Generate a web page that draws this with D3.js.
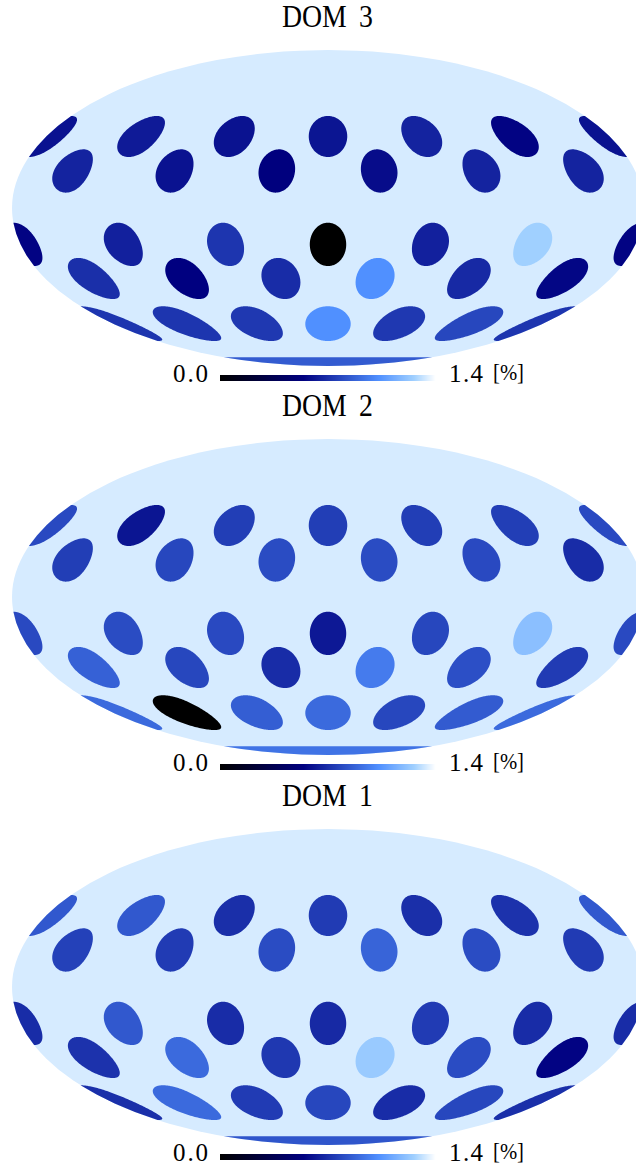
<!DOCTYPE html>
<html>
<head>
<meta charset="utf-8">
<script src="https://cdn.jsdelivr.net/npm/d3@7"></script>
<style>
  html, body { margin: 0; padding: 0; background: #fff; overflow: hidden; }
  svg { display: block; }
  .title { font-family: "Liberation Serif", serif; font-size: 31px; fill: #000; word-spacing: 6px; }
  .tick { font-family: "Liberation Serif", serif; font-size: 25px; fill: #000; }
  .unit { font-family: "Liberation Serif", serif; font-size: 23px; fill: #000; }
</style>
</head>
<body>
<script>
const WIDTH = 636;
const HEIGHT = 1169;
const CENTER_X = 328;
const RADIUS_X = 316;
const SPOT_RADIUS = 10.2;
const BACKGROUND_VALUE = 1.34;

const panelNames = ["DOM 3", "DOM 2", "DOM 1"];
const panelCenters = [208, 597, 987];
const tickLabels = ["0.0", "1.4"];
const unitLabel = "[%]";

// spot rings on the sky, bottom cap last
const ringLats = [34, 17.3, -17, -33.5, -57.7, -90];
const ringLons = [
  [-120, -60, 0, 60, 120, 180],
  [-150, -90, -30, 30, 90, 150],
  [-120, -60, 0, 60, 120, 180],
  [-150, -90, -30, 30, 90, 150],
  [-120, -60, 0, 60, 120, 180],
  [0]
];

const dom3 = [
  [0.63, 0.60, 0.61, 0.66, 0.55, 0.60],
  [0.66, 0.60, 0.53, 0.58, 0.66, 0.66],
  [0.65, 0.72, 0.00, 0.65, 1.26, 0.55],
  [0.70, 0.54, 0.69, 1.03, 0.68, 0.56],
  [0.72, 0.73, 1.03, 0.73, 0.78, 0.72],
  [0.85]
];
const dom2 = [
  [0.61, 0.75, 0.75, 0.75, 0.75, 0.79],
  [0.75, 0.78, 0.80, 0.80, 0.79, 0.69],
  [0.80, 0.79, 0.62, 0.78, 1.20, 0.79],
  [0.87, 0.78, 0.69, 0.96, 0.81, 0.74],
  [0.00, 0.86, 0.90, 0.78, 0.85, 0.90],
  [0.93]
];
const dom1 = [
  [0.84, 0.70, 0.74, 0.70, 0.71, 0.84],
  [0.76, 0.74, 0.80, 0.88, 0.80, 0.74],
  [0.84, 0.69, 0.68, 0.74, 0.69, 0.69],
  [0.71, 0.90, 0.73, 1.24, 0.80, 0.55],
  [0.90, 0.74, 0.78, 0.69, 0.78, 0.70],
  [0.83]
];
const panelValues = [dom3, dom2, dom1];

const colorScale = d3
  .scaleLinear()
  .domain([0, 0.54, 1.03, 1.26, 1.4])
  .range(["#000000", "#000080", "#5090ff", "#a0d0ff", "#ffffff"]);

function mollweideRaw(lambda, phi) {
  // solve 2t + sin 2t = pi sin phi
  let t = phi;
  const k = Math.PI * Math.sin(phi);
  for (let i = 0; i < 30; i++) {
    const c = Math.cos(2 * t);
    if (1 + c < 1e-9) break;
    t -= (2 * t + Math.sin(2 * t) - k) / (2 + 2 * c);
  }
  return [(2 * Math.SQRT2 / Math.PI) * lambda * Math.cos(t), Math.SQRT2 * Math.sin(t)];
}

const svg = d3.select("body").append("svg").attr("width", WIDTH).attr("height", HEIGHT);

const barScale = d3.scaleLinear().domain([0, 1.4]).range([220, 435]);

panelNames.forEach((name, p) => {
  const cy = panelCenters[p];
  const projection = d3
    .geoProjection(mollweideRaw)
    .scale(RADIUS_X / (2 * Math.SQRT2))
    .translate([CENTER_X, cy])
    .precision(0.2);
  const path = d3.geoPath(projection);
  const g = svg.append("g");

  g.append("path")
    .attr("d", path({ type: "Sphere" }))
    .attr("fill", colorScale(BACKGROUND_VALUE));

  const spots = [];
  ringLats.forEach((lat, r) => {
    ringLons[r].forEach((lon, i) => {
      spots.push({ lon, lat, value: panelValues[p][r][i] });
    });
  });

  g.selectAll(".spot")
    .data(spots)
    .join("path")
    .attr("class", "spot")
    .attr("fill", d => colorScale(d.value))
    .attr("d", d => path(d3.geoCircle().center([d.lon, d.lat]).radius(SPOT_RADIUS).precision(2)()));

  g.append("text")
    .attr("class", "title")
    .attr("x", 282)
    .attr("y", cy - 181.5)
    .attr("textLength", 91)
    .attr("lengthAdjust", "spacingAndGlyphs")
    .text(name);

  // colour bar, one rect per pixel
  const barY = cy + 167;
  const barPixels = d3.range(barScale.range()[0], barScale.range()[1]);
  g.append("g")
    .selectAll("rect")
    .data(barPixels)
    .join("rect")
    .attr("x", d => d)
    .attr("y", barY)
    .attr("width", 1.2)
    .attr("height", 6)
    .attr("fill", d => colorScale(barScale.invert(d)));

  g.append("text").attr("class", "tick").attr("x", 173).attr("y", barY + 7).attr("textLength", 35).text(tickLabels[0]);
  g.append("text").attr("class", "tick").attr("x", 449).attr("y", barY + 7).attr("textLength", 34).text(tickLabels[1]);
  g.append("text").attr("class", "unit").attr("x", 493).attr("y", barY + 5).attr("textLength", 31).attr("lengthAdjust", "spacingAndGlyphs").text(unitLabel);
});
</script>
</body>
</html>
